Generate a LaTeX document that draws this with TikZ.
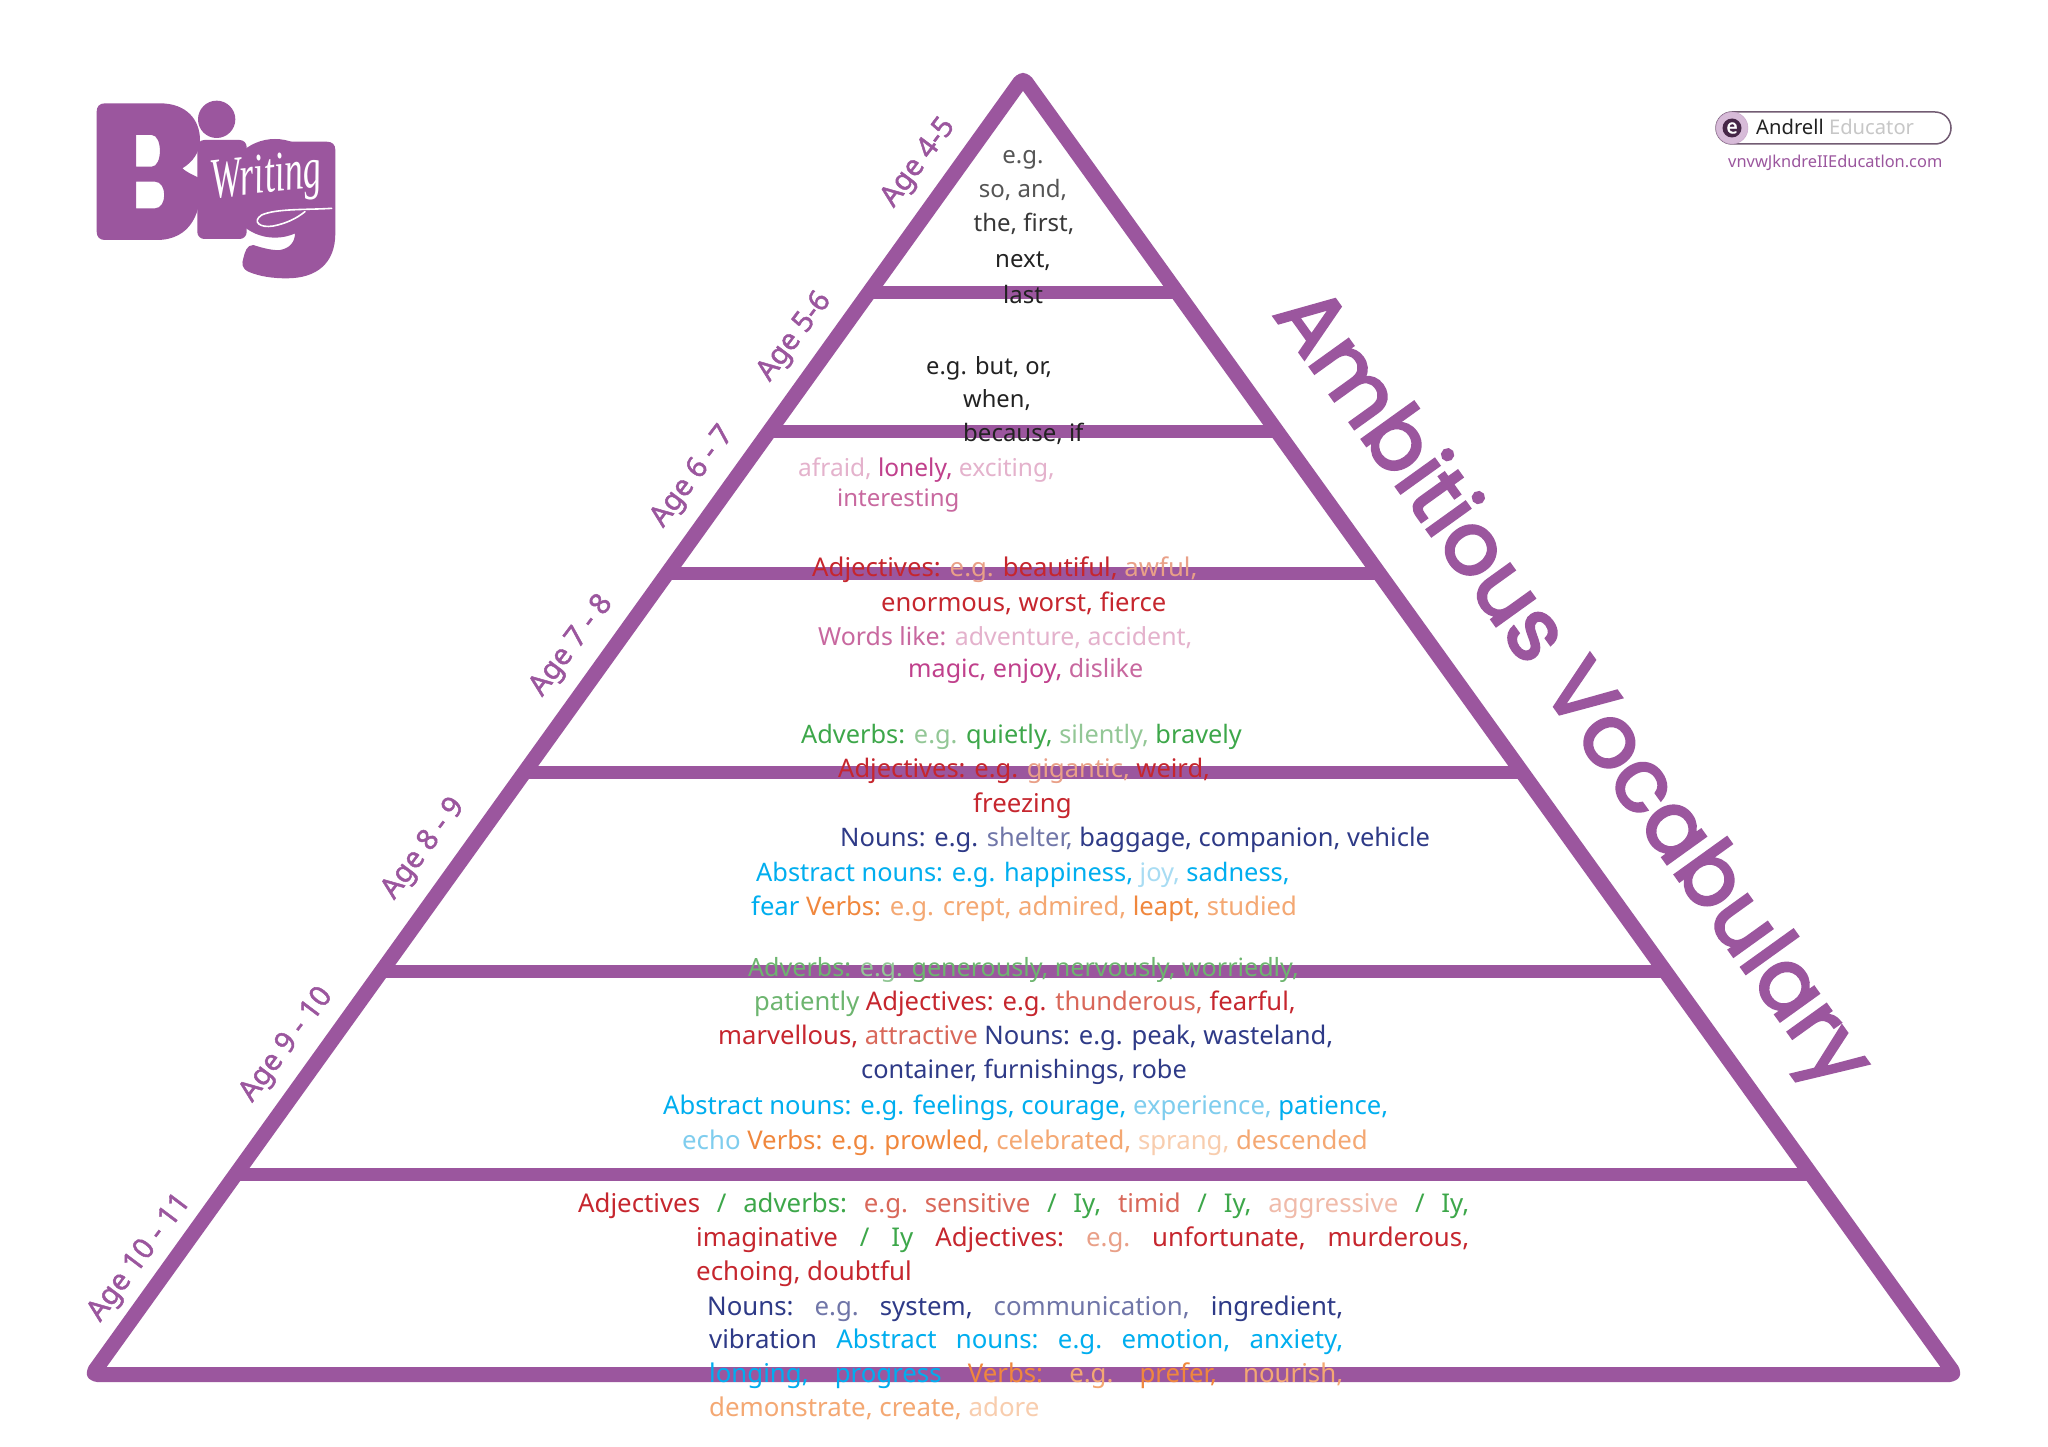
\documentclass[tikz,border=0pt]{standalone}
\usepackage{fontspec}
\usetikzlibrary{calc}
\setmainfont{Noto Sans}
\newfontfamily\titlef[FakeBold=3]{Poppins}
\newfontfamily\agef[FakeBold=1.6]{Noto Sans}
\newfontfamily\logof{Liberation Serif}
\definecolor{pur}{HTML}{9B569E}
\definecolor{cK}{HTML}{222222}
\definecolor{cG}{HTML}{555555}
\definecolor{cR}{HTML}{C6262E}
\definecolor{cRa}{HTML}{D9685A}
\definecolor{cRb}{HTML}{E9A088}
\definecolor{cRc}{HTML}{F0BBAA}
\definecolor{cP}{HTML}{C0408C}
\definecolor{cPa}{HTML}{C8689F}
\definecolor{cPb}{HTML}{E4B2CC}
\definecolor{cV}{HTML}{3DA74A}
\definecolor{cVa}{HTML}{6DB56F}
\definecolor{cVb}{HTML}{93C796}
\definecolor{cN}{HTML}{2E3A87}
\definecolor{cNa}{HTML}{7076A8}
\definecolor{cC}{HTML}{00AEEF}
\definecolor{cCa}{HTML}{7FCDEE}
\definecolor{cCb}{HTML}{A8DCF3}
\definecolor{cO}{HTML}{F0873D}
\definecolor{cOa}{HTML}{F4A873}
\definecolor{cOb}{HTML}{F8CDAE}
\newcommand{\cc}[2]{\textcolor{#1}{#2}}
\newcommand{\wl}[5]{\node[txtline,font=\fontsize{#4}{28}\selectfont] (#1) at (#2,#3+9) {#5};}
\newcommand{\wj}[5]{\node[txtline,font=\fontsize{25.8}{28}\selectfont] (#1) at (#2,#3+9) {\hbox to #4pt{#5}};}
\tikzset{
  txtline/.style={anchor=base west,inner sep=0pt,font=\fontsize{24}{28}\selectfont},
  agelabel/.style={text=pur,rotate=53,inner sep=0pt,font=\fontsize{29}{32}\agef},
  bar/.style={draw=pur,line width=13.5pt},
  frame/.style={draw=pur,line width=15pt,line join=round,rounded corners=5pt},
}
\begin{document}
\begin{tikzpicture}[x=1pt,y=-1pt]
\useasboundingbox (0,0) rectangle (2048,1447);
\fill[white] (0,0) rectangle (2048,1447);
% pyramid
\coordinate (apex) at (1023,78);
\coordinate (bl) at (92,1374.5);
\coordinate (br) at (1955,1374.5);
\foreach \yy in {292.7,431.7,573.7,772.7,971.7,1174.7}{
  \pgfmathsetmacro{\tt}{(\yy-78)/1296.5}
  \draw[bar] ($(apex)!\tt!(bl)$) -- ($(apex)!\tt!(br)$);
}
\draw[frame] (apex) -- (bl) -- (br) -- cycle;
% age labels
\node[agelabel] (a1) at (919,163) {Age 4-5};
\node[agelabel] (a2) at (795,337) {Age 5-6};
\node[agelabel] (a3) at (693,477) {Age 6 - 7};
\node[agelabel] (a4) at (572,646) {Age 7 - 8};
\node[agelabel] (a5) at (424,849) {Age 8 - 9};
\node[agelabel] (a6) at (287,1045) {Age 9 - 10};
\node[agelabel] (a7) at (140,1258) {Age 10 - 11};
% title
\node[text=pur,anchor=base west,inner sep=0pt,rotate=-54.3,font=\fontsize{86.5}{96}\titlef] (title) at (1272,314) {Ambitious Vocabulary};
% texts
\node[txtline,anchor=base] (t1) at (1023,164) {\cc{cG}{e.g.}};
\node[txtline,anchor=base] (t2) at (1023,198) {\cc{cG}{so, and,}};
\node[txtline,anchor=base] (t3) at (1024,232) {\cc{cK!90}{the, first,}};
\node[txtline,anchor=base] (t4) at (1023,268) {\cc{cK}{next,}};
\node[txtline,anchor=base] (t5) at (1023,304) {\cc{cK}{last}};
\wl{t6}{926}{365}{23.7}{\cc{cK}{e.g. but, or,}}
\wl{t7}{963}{398}{23.7}{\cc{cK}{when,}}
\wl{t8}{963}{432}{24}{\cc{cK}{because, if}}
\wl{t9}{798}{467}{24.5}{\cc{cPb}{afraid,} \cc{cP}{lonely,} \cc{cPb}{exciting,}}
\wl{t10}{837}{497}{24}{\cc{cPa}{interesting}}
\wl{t11}{812}{567}{25.75}{\cc{cR}{Adjectives:} \cc{cRb}{e.g.} \cc{cR}{beautiful,} \cc{cRb}{awful,}}
\wl{t12}{881}{602}{25.6}{\cc{cR}{enormous, worst, fierce}}
\wl{t13}{818}{636}{24.9}{\cc{cPa}{Words like:} \cc{cPb}{adventure, accident,}}
\wl{t14}{908}{668}{25.1}{\cc{cP}{magic, enjoy,} \cc{cPa}{dislike}}
\wl{t15}{801}{734}{25.35}{\cc{cV}{Adverbs:} \cc{cVb}{e.g.} \cc{cV}{quietly,} \cc{cVb}{silently,} \cc{cV}{bravely}}
\wl{t16}{838}{768}{25.5}{\cc{cR}{Adjectives: e.g.} \cc{cRb}{gigantic,} \cc{cR}{weird,}}
\wl{t17}{973}{803}{25.8}{\cc{cR}{freezing}}
\wl{t18}{840}{837}{25.5}{\cc{cN}{Nouns: e.g.} \cc{cNa}{shelter,} \cc{cN}{baggage, companion, vehicle}}
\wl{t19}{756}{872}{25.4}{\cc{cC}{Abstract nouns: e.g. happiness,} \cc{cCb}{joy,} \cc{cC}{sadness,}}
\wl{t20}{751}{906}{25.65}{\cc{cC}{fear} \cc{cO}{Verbs:} \cc{cOa}{e.g. crept, admired,} \cc{cO}{leapt,} \cc{cOa}{studied}}
\wl{t21}{748}{967}{25.1}{\cc{cVa}{Adverbs:} \cc{cVb}{e.g.} \cc{cVa}{generously, nervously, worriedly,}}
\wl{t22}{754}{1001}{25.6}{\cc{cVa}{patiently} \cc{cR}{Adjectives: e.g.} \cc{cRa}{thunderous,} \cc{cR}{fearful,}}
\wl{t23}{718}{1035}{25.6}{\cc{cR}{marvellous,} \cc{cRa}{attractive} \cc{cN}{Nouns: e.g. peak, wasteland,}}
\wl{t24}{861}{1069}{25.3}{\cc{cN}{container, furnishings, robe}}
\wl{t25}{663}{1105}{25.6}{\cc{cC}{Abstract nouns: e.g. feelings, courage,} \cc{cCa}{experience,} \cc{cC}{patience,}}
\wl{t26}{682}{1140}{25.75}{\cc{cCa}{echo} \cc{cO}{Verbs: e.g. prowled,} \cc{cOa}{celebrated,} \cc{cOb}{sprang,} \cc{cOa}{descended}}
\wj{t27}{578}{1203}{891}{\cc{cR}{Adjectives}\hfill\cc{cV}{/}\hfill\cc{cV}{adverbs:}\hfill\cc{cRa}{e.g.}\hfill\cc{cRa}{sensitive}\hfill\cc{cV}{/}\hfill\cc{cV}{Iy,}\hfill\cc{cRa}{timid}\hfill\cc{cV}{/}\hfill\cc{cV}{Iy,}\hfill\cc{cRc}{aggressive}\hfill\cc{cV}{/}\hfill\cc{cV}{Iy,}}
\wj{t28}{696}{1237}{773}{\cc{cR}{imaginative}\hfill\cc{cV}{/}\hfill\cc{cV}{Iy}\hfill\cc{cR}{Adjectives:}\hfill\cc{cRb}{e.g.}\hfill\cc{cR}{unfortunate,}\hfill\cc{cR}{murderous,}}
\wl{t29}{696}{1271}{25.9}{\cc{cR}{echoing, doubtful}}
\wj{t30}{707}{1306}{636}{\cc{cN}{Nouns:}\hfill\cc{cNa}{e.g.}\hfill\cc{cN}{system,}\hfill\cc{cNa}{communication,}\hfill\cc{cN}{ingredient,}}
\wj{t31}{709}{1339}{634}{\cc{cN}{vibration}\hfill\cc{cC}{Abstract}\hfill\cc{cC}{nouns:}\hfill\cc{cC}{e.g.}\hfill\cc{cC}{emotion,}\hfill\cc{cC}{anxiety,}}
\wj{t32}{709}{1373}{634}{\cc{cC}{longing,}\hfill\cc{cC}{progress}\hfill\cc{cO}{Verbs:}\hfill\cc{cOa}{e.g.}\hfill\cc{cO}{prefer,}\hfill\cc{cOa}{nourish,}}
\wl{t33}{709}{1407}{25.85}{\cc{cOa}{demonstrate, create,} \cc{cOb}{adore}}
% Andrell badge
\draw[draw=black!35!pur!50!gray,line width=1.5pt,fill=white,rounded corners=16pt] (1716,112) rectangle (1951,144);
\node[circle,minimum size=32pt,inner sep=0pt,fill=pur!40,draw=pur!55] (logoring) at (1732,128) {};
\node[circle,minimum size=19pt,inner sep=0pt,fill=pur!45!black] (logodisc) at (1732,128) {};
\node[inner sep=0pt,text=white,font=\fontsize{20}{22}\agef] (logoe) at (logodisc) {e};
\node[anchor=base west,inner sep=0pt,font=\fontsize{20.2}{26}\selectfont] (andrell) at (1756,135) {\cc{cK}{Andrell} \cc{black!22}{Educator}};
\node[anchor=base west,inner sep=0pt,font=\fontsize{16.4}{22}\selectfont,text=pur] (web) at (1728,167.5) {vnvwJkndreIIEducatlon.com};
% Big Writing logo
\begin{scope}[shift={(60,60)},xscale=1/3,yscale=1/3]
  % B
  \fill[pur,even odd rule] (135,130) -- (300,130) .. controls (380,130) and (420,180) .. (420,240)
    .. controls (420,275) and (400,305) .. (367,325) .. controls (385,340) and (400,345) .. (420,355)
    .. controls (430,460) and (390,540) .. (290,540) -- (135,540)
    .. controls (118,540) and (110,530) .. (110,515) -- (110,155) .. controls (110,140) and (118,130) .. (135,130) -- cycle
    (228,225) -- (275,225) .. controls (308,225) and (308,320) .. (275,320) -- (228,320) -- cycle
    (228,365) -- (285,365) .. controls (322,365) and (322,445) .. (285,445) -- (228,445) -- cycle;
  % i
  \fill[pur] (470,178) circle[radius=56];
  \fill[pur,rounded corners=7pt] (412,240) rectangle (560,537);
  % g
  \fill[pur] (645,385) circle[radius=148];
  \fill[pur] (640,245) -- (800,245) .. controls (818,245) and (826,255) .. (826,270) -- (826,520)
    .. controls (826,610) and (770,655) .. (680,655) .. controls (640,655) and (600,650) .. (565,635)
    .. controls (545,625) and (545,610) .. (550,595) .. controls (555,575) and (560,555) .. (580,555)
    .. controls (610,565) and (640,572) .. (660,570) .. controls (690,565) and (705,545) .. (705,520) -- (640,400) -- cycle;
  \node[anchor=base west,inner sep=0pt,rotate=6,text=white,font=\fontsize{37}{44}\logof\itshape] (writing) at (458,415) {\scalebox{1}[1.55]{Writing}};
  \draw[white,line width=1.6pt,line cap=round] (815,445) .. controls (740,450) and (650,445) .. (605,465)
    .. controls (575,485) and (600,505) .. (640,498) .. controls (680,490) and (710,475) .. (735,455);
\end{scope}
\end{tikzpicture}
\end{document}
